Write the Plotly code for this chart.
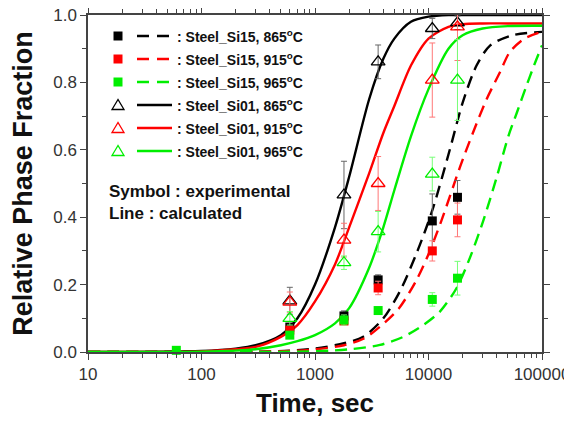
import plotly.graph_objects as go

# ---------------- data ----------------
t_exp = [600, 1800, 3600, 10800, 18000]
t_exp_g = [60, 600, 1800, 3600, 10800, 18000]

si15_865 = [0.074, 0.107, 0.214, 0.389, 0.459]
si15_865_err = [0.01, 0.015, 0.015, 0.08, 0.05]
si15_915 = [0.065, 0.092, 0.19, 0.30, 0.392]
si15_915_err = [0.01, 0.01, 0.02, 0.03, 0.05]
si15_965 = [0.005, 0.05, 0.095, 0.123, 0.156, 0.219]
si15_965_err = [0.005, 0.01, 0.015, 0.01, 0.02, 0.05]

si01_865 = [0.152, 0.466, 0.861, 0.96, 0.977]
si01_865_err = [0.04, 0.10, 0.05, 0.03, 0.02]
si01_915 = [0.148, 0.332, 0.50, 0.807, 0.965]
si01_915_err = [0.03, 0.05, 0.08, 0.11, 0.10]
si01_965 = [0.10, 0.265, 0.357, 0.528, 0.807]
si01_965_err = [0.02, 0.02, 0.06, 0.05, 0.12]

# calculated curves
t_c01 = [10, 100, 200, 300, 500, 700, 1000, 1500, 2000, 3000, 4000, 5000, 7000,
         10000, 15000, 20000, 30000, 50000, 100000]
calc01_865 = [0, 0.003, 0.01, 0.02, 0.05, 0.10, 0.20, 0.37, 0.52, 0.75, 0.87, 0.93,
              0.98, 0.995, 1.0, 1.0, 1.0, 1.0, 1.0]
calc01_915 = [0, 0.002, 0.008, 0.015, 0.045, 0.08, 0.15, 0.26, 0.37, 0.53, 0.65, 0.73,
              0.85, 0.93, 0.965, 0.973, 0.975, 0.975, 0.975]
calc01_965 = [0, 0.001, 0.004, 0.008, 0.02, 0.032, 0.05, 0.085, 0.13, 0.25, 0.37, 0.48,
              0.64, 0.78, 0.90, 0.94, 0.96, 0.967, 0.968]

t_c15_865 = [10, 300, 600, 1000, 1800, 2660, 4000, 5600, 8000, 10800, 15400, 20000,
             26500, 35000, 55000, 100000]
calc15_865 = [0, 0.001, 0.004, 0.01, 0.026, 0.045, 0.10, 0.18, 0.30, 0.42, 0.60, 0.74,
              0.85, 0.91, 0.94, 0.95]
t_c15_915 = [10, 300, 600, 1000, 1800, 2700, 3740, 5500, 7850, 10000, 13000, 19000,
             24600, 32500, 42600, 52000, 70000, 100000]
calc15_915 = [0, 0.001, 0.003, 0.008, 0.02, 0.04, 0.075, 0.13, 0.214, 0.29, 0.39, 0.55,
              0.65, 0.75, 0.83, 0.89, 0.93, 0.95]
t_c15_965 = [10, 1000, 2000, 3740, 6000, 9000, 12600, 17700, 23200, 30400, 40000,
             50500, 60000, 73000, 85000, 100000]
calc15_965 = [0, 0.002, 0.008, 0.021, 0.045, 0.08, 0.12, 0.19, 0.28, 0.39, 0.52,
              0.64, 0.71, 0.79, 0.85, 0.91]

x_ticks = [10, 100, 1000, 10000, 100000]
x_ticktext = ["10", "100", "1000", "10000", "100000"]
y_ticks = [0.0, 0.2, 0.4, 0.6, 0.8, 1.0]

legend_labels = [
    "Steel_Si15, 865<sup>o</sup>C",
    "Steel_Si15, 915<sup>o</sup>C",
    "Steel_Si15, 965<sup>o</sup>C",
    "Steel_Si01, 865<sup>o</sup>C",
    "Steel_Si01, 915<sup>o</sup>C",
    "Steel_Si01, 965<sup>o</sup>C",
]

BLACK = "#000000"
RED = "#ff0000"
GREEN = "#00ee00"
FONT = "Liberation Sans, Arial, sans-serif"

# page body has an 8px default margin: compensate so the plot lands where the reference has it
OFF = 8
W, H = 572 - OFF, 424 - OFF
L, T = 88 - OFF, 15 - OFF          # plot left/top in figure coords
PW, PH = 454, 337
R, B = W - L - PW, H - T - PH


def px(x_page):
    return (x_page - OFF - L) / PW


def py(y_page):
    return (T + PH - (y_page - OFF)) / PH


fig = go.Figure()

# calculated curves
curves = [
    (t_c15_865, calc15_865, BLACK, "12px,7px"),
    (t_c15_915, calc15_915, RED, "12px,7px"),
    (t_c15_965, calc15_965, GREEN, "12px,7px"),
    (t_c01, calc01_865, BLACK, "solid"),
    (t_c01, calc01_915, RED, "solid"),
    (t_c01, calc01_965, GREEN, "solid"),
]
for tx, vy, col, dash in curves:
    fig.add_trace(go.Scatter(x=tx, y=vy, mode="lines",
                             line=dict(color=col, width=2.4, dash=dash, shape="spline", smoothing=0.8),
                             showlegend=False, hoverinfo="skip"))

# experimental points
exps = [
    (t_exp, si15_865, si15_865_err, BLACK, "#666666", "square", True),
    (t_exp, si15_915, si15_915_err, RED, "#ff7777", "square", True),
    (t_exp_g, si15_965, si15_965_err, GREEN, "#77ff77", "square", True),
    (t_exp, si01_865, si01_865_err, BLACK, "#666666", "triangle-up-open", False),
    (t_exp, si01_915, si01_915_err, RED, "#ff7777", "triangle-up-open", False),
    (t_exp, si01_965, si01_965_err, GREEN, "#77ff77", "triangle-up-open", False),
]
for tx, vy, err, col, ecol, sym, filled in exps:
    fig.add_trace(go.Scatter(
        x=tx, y=vy, mode="markers",
        error_y=dict(type="data", array=err, visible=True, color=ecol, thickness=1, width=3),
        marker=dict(symbol=sym, size=9 if filled else 12, color=col,
                    line=dict(color=col, width=1.3 if not filled else 0)),
        showlegend=False, cliponaxis=False))

# hand-drawn legend (positions in page pixels)
row_y = [36, 59, 82, 105, 128, 151]
shapes = []
annotations = []
for i, lab in enumerate(legend_labels):
    col = [BLACK, RED, GREEN][i % 3]
    yy = row_y[i]
    cx = 118
    if i < 3:
        shapes.append(dict(type="rect", xref="paper", yref="paper",
                           x0=px(cx - 4.5), x1=px(cx + 4.5), y0=py(yy + 4.5), y1=py(yy - 4.5),
                           fillcolor=col, line=dict(width=0)))
        shapes.append(dict(type="line", xref="paper", yref="paper",
                           x0=px(137), x1=px(169), y0=py(yy), y1=py(yy),
                           line=dict(color=col, width=2.4, dash="12px,8px")))
    else:
        path = "M {} {} L {} {} L {} {} Z".format(
            px(cx), py(yy - 5.5), px(cx - 6), py(yy + 4.5), px(cx + 6), py(yy + 4.5))
        shapes.append(dict(type="path", xref="paper", yref="paper", path=path,
                           line=dict(color=col, width=1.3), fillcolor="rgba(0,0,0,0)"))
        shapes.append(dict(type="line", xref="paper", yref="paper",
                           x0=px(137), x1=px(172), y0=py(yy), y1=py(yy),
                           line=dict(color=col, width=2.4)))
    annotations.append(dict(xref="paper", yref="paper", x=px(175), y=py(yy),
                            xanchor="left", yanchor="middle", showarrow=False,
                            text="<b>: " + lab + "</b>",
                            font=dict(family=FONT, size=14, color="#111111")))

annotations.append(dict(xref="paper", yref="paper", x=px(107), y=py(191),
                        xanchor="left", yanchor="middle", showarrow=False,
                        text="<b>Symbol : experimental</b>",
                        font=dict(family=FONT, size=17, color="#111111")))
annotations.append(dict(xref="paper", yref="paper", x=px(107), y=py(213),
                        xanchor="left", yanchor="middle", showarrow=False,
                        text="<b>Line : calculated</b>",
                        font=dict(family=FONT, size=17, color="#111111")))

axis_col = "#444444"
fig.update_layout(
    width=W, height=H,
    margin=dict(l=L, r=R, t=T, b=B, autoexpand=False),
    paper_bgcolor="white", plot_bgcolor="white",
    font=dict(family=FONT, color="#333333"),
    shapes=shapes, annotations=annotations,
    xaxis=dict(type="log", range=[1, 5], tickvals=x_ticks, ticktext=x_ticktext,
               automargin=False, ticklabeloverflow="allow",
               ticks="outside", ticklen=6, tickwidth=1.3, tickcolor=axis_col,
               minor=dict(ticks="outside", ticklen=4, tickwidth=1, tickcolor=axis_col,
                          dtick="D1", showgrid=False),
               showline=True, linecolor=axis_col, linewidth=1.5, mirror="allticks",
               showgrid=False, zeroline=False,
               tickfont=dict(family=FONT, size=17, color="#333333"),
               title=dict(text="<b>Time, sec</b>", standoff=11,
                          font=dict(family=FONT, size=26, color="#111111"))),
    yaxis=dict(range=[0, 1.0], tickvals=y_ticks, tickformat=".1f",
               automargin=False, ticklabeloverflow="allow",
               ticks="outside", ticklen=6, tickwidth=1.3, tickcolor=axis_col,
               minor=dict(ticks="outside", ticklen=4, tickwidth=1, tickcolor=axis_col,
                          dtick=0.1, showgrid=False),
               showline=True, linecolor=axis_col, linewidth=1.5, mirror="allticks",
               showgrid=False, zeroline=False,
               tickfont=dict(family=FONT, size=17, color="#333333"),
               title=dict(text="<b>Relative Phase Fraction</b>", standoff=20,
                          font=dict(family=FONT, size=27, color="#111111"))),
)

fig.write_html("out.html")
